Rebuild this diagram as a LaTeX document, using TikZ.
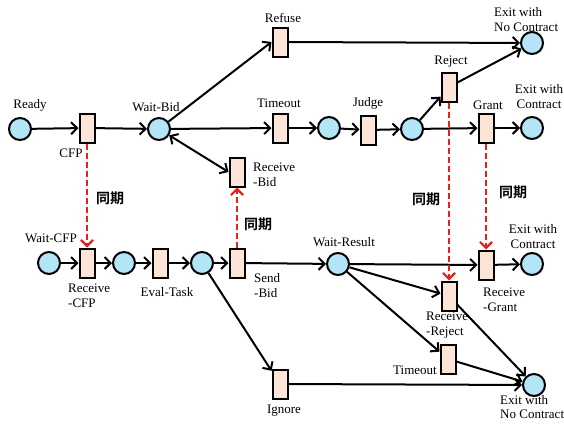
\documentclass[tikz,border=0pt]{standalone}
\usepackage{fontspec}
\setmainfont{Liberation Serif}
\newfontfamily\cjkfont{Noto Sans CJK SC}[BoldFont={* Bold}]
\usetikzlibrary{arrows.meta}
\definecolor{placeblue}{HTML}{B3E5F7}
\definecolor{transpeach}{HTML}{FCE4D6}
\definecolor{syncred}{HTML}{E8201C}
\tikzset{
  place/.style={circle,draw,line width=2pt,fill=placeblue,minimum size=22pt,inner sep=0pt},
  trans/.style={rectangle,draw,line width=2pt,fill=transpeach,minimum width=15pt,minimum height=29pt,inner sep=0pt},
  lbl/.style={inner sep=0pt,font=\fontsize{13}{15}\selectfont,align=left},
  sync/.style={inner sep=0pt,font=\cjkfont\bfseries\fontsize{14}{16}\selectfont},
  arc/.style={line width=2pt,-{Straight Barb[length=6pt,width=12pt,line width=2pt]}},
  darc/.style={line width=2pt,{Straight Barb[length=6pt,width=12pt,line width=2pt]}-{Straight Barb[length=6pt,width=12pt,line width=2pt]}},
  syncarc/.style={line width=2.4pt,syncred,dash pattern=on 6pt off 3pt,-{Straight Barb[length=6pt,width=12pt,line width=2.2pt]}}
}
\begin{document}
\begin{tikzpicture}[x=1pt,y=-1pt]
\useasboundingbox (0,0) rectangle (564,423);
% top row
\node[place] (ready) at (20,129) {};
\node[trans] (cfp) at (87,128) {};
\node[place] (waitbid) at (159,129) {};
\node[trans] (refuse) at (280,42) {};
\node[trans] (timeout1) at (280,128) {};
\node[trans] (recvbid) at (237,172) {};
\node[place] (p1) at (329,128) {};
\node[trans] (judge) at (368,130) {};
\node[place] (p2) at (412,129) {};
\node[trans] (reject) at (449,87) {};
\node[trans] (grant) at (486,128) {};
\node[place] (exitc1) at (532,128) {};
\node[place] (exitn1) at (532,43) {};
% bottom row
\node[place] (waitcfp) at (49,263) {};
\node[trans] (recvcfp) at (87,263) {};
\node[place] (p3) at (124,263) {};
\node[trans] (evaltask) at (160,263) {};
\node[place] (p4) at (202,263) {};
\node[trans] (sendbid) at (237,263) {};
\node[place] (waitres) at (338,264) {};
\node[trans] (recvgrant) at (486,265) {};
\node[place] (exitc2) at (532,264) {};
\node[trans] (recvreject) at (449,296) {};
\node[trans] (timeout2) at (448,359) {};
\node[trans] (ignore) at (280,384) {};
\node[place] (exitn2) at (534,385) {};
% labels
\node[lbl] (lready) at (30,105) {Ready};
\node[lbl] (lcfp) at (71,153) {CFP};
\node[lbl] (lwaitbid) at (156,107) {Wait-Bid};
\node[lbl] (lrefuse) at (283,18) {Refuse};
\node[lbl] (ltimeout1) at (279,103) {Timeout};
\node[lbl,anchor=west] (lrecvbid) at (253,174.5) {Receive\\-Bid};
\node[lbl] (ljudge) at (368,103) {Judge};
\node[lbl] (lreject) at (451,62) {Reject};
\node[lbl] (lgrant) at (488,105) {Grant};
\node[lbl,align=center] (lexitc1) at (539,96.5) {Exit with\\Contract};
\node[lbl,anchor=west] (lexitn1) at (494,19.5) {Exit with\\No Contract};
\node[lbl] (lwaitcfp) at (51,238) {Wait-CFP};
\node[lbl,anchor=west] (lrecvcfp) at (68,295.5) {Receive\\-CFP};
\node[lbl] (leval) at (167,292) {Eval-Task};
\node[lbl,anchor=west] (lsendbid) at (254,285.5) {Send\\-Bid};
\node[lbl] (lignore) at (284,411) {Ignore};
\node[lbl] (lwaitres) at (344,242) {Wait-Result};
\node[lbl,align=center] (lexitc2) at (533,237) {Exit with\\Contract};
\node[lbl,anchor=west] (lrecvgrant) at (483,300) {Receive\\-Grant};
\node[lbl,anchor=west] (lrecvreject) at (426,325) {Receive\\-Reject};
\node[lbl] (ltimeout2) at (415,370) {Timeout};
\node[lbl,anchor=west,font=\fontsize{13}{14}\selectfont] (lexitn2) at (500,407) {Exit with\\No Contract};
\node[sync] (s1) at (110,198) {同期};
\node[sync] (s2) at (258,224) {同期};
\node[sync] (s3) at (426,199) {同期};
\node[sync] (s4) at (513,192) {同期};
% arcs top
\draw[arc] (ready) -- (cfp);
\draw[arc] (cfp) -- (waitbid);
\draw[arc] (waitbid) -- (refuse.west);
\draw[arc] (waitbid) -- (timeout1);
\draw[darc] (waitbid) -- (recvbid.west);
\draw[arc] (refuse) -- (exitn1);
\draw[arc] (timeout1) -- (p1);
\draw[arc] (p1) -- (judge);
\draw[arc] (judge) -- (p2);
\draw[arc] (p2) -- (reject);
\draw[arc] (p2) -- (grant);
\draw[arc] (reject) -- (exitn1);
\draw[arc] (grant) -- (exitc1);
% arcs bottom
\draw[arc] (waitcfp) -- (recvcfp);
\draw[arc] (recvcfp) -- (p3);
\draw[arc] (p3) -- (evaltask);
\draw[arc] (evaltask) -- (p4);
\draw[arc] (p4) -- (sendbid);
\draw[arc] (sendbid) -- (waitres);
\draw[arc] (p4) -- (ignore);
\draw[arc] (ignore) -- (exitn2);
\draw[arc] (waitres) -- (recvgrant);
\draw[arc] (recvgrant) -- (exitc2);
\draw[arc] (waitres) -- (recvreject);
\draw[arc] (waitres) -- (timeout2);
\draw[arc] (recvreject) -- (exitn2);
\draw[arc] (timeout2) -- (exitn2);
% sync arcs
\draw[syncarc] (cfp.south) -- (recvcfp.north);
\draw[syncarc] (sendbid.north) -- (recvbid.south);
\draw[syncarc] (reject.south) -- (recvreject.north);
\draw[syncarc] (grant.south) -- (recvgrant.north);
\end{tikzpicture}
\end{document}
